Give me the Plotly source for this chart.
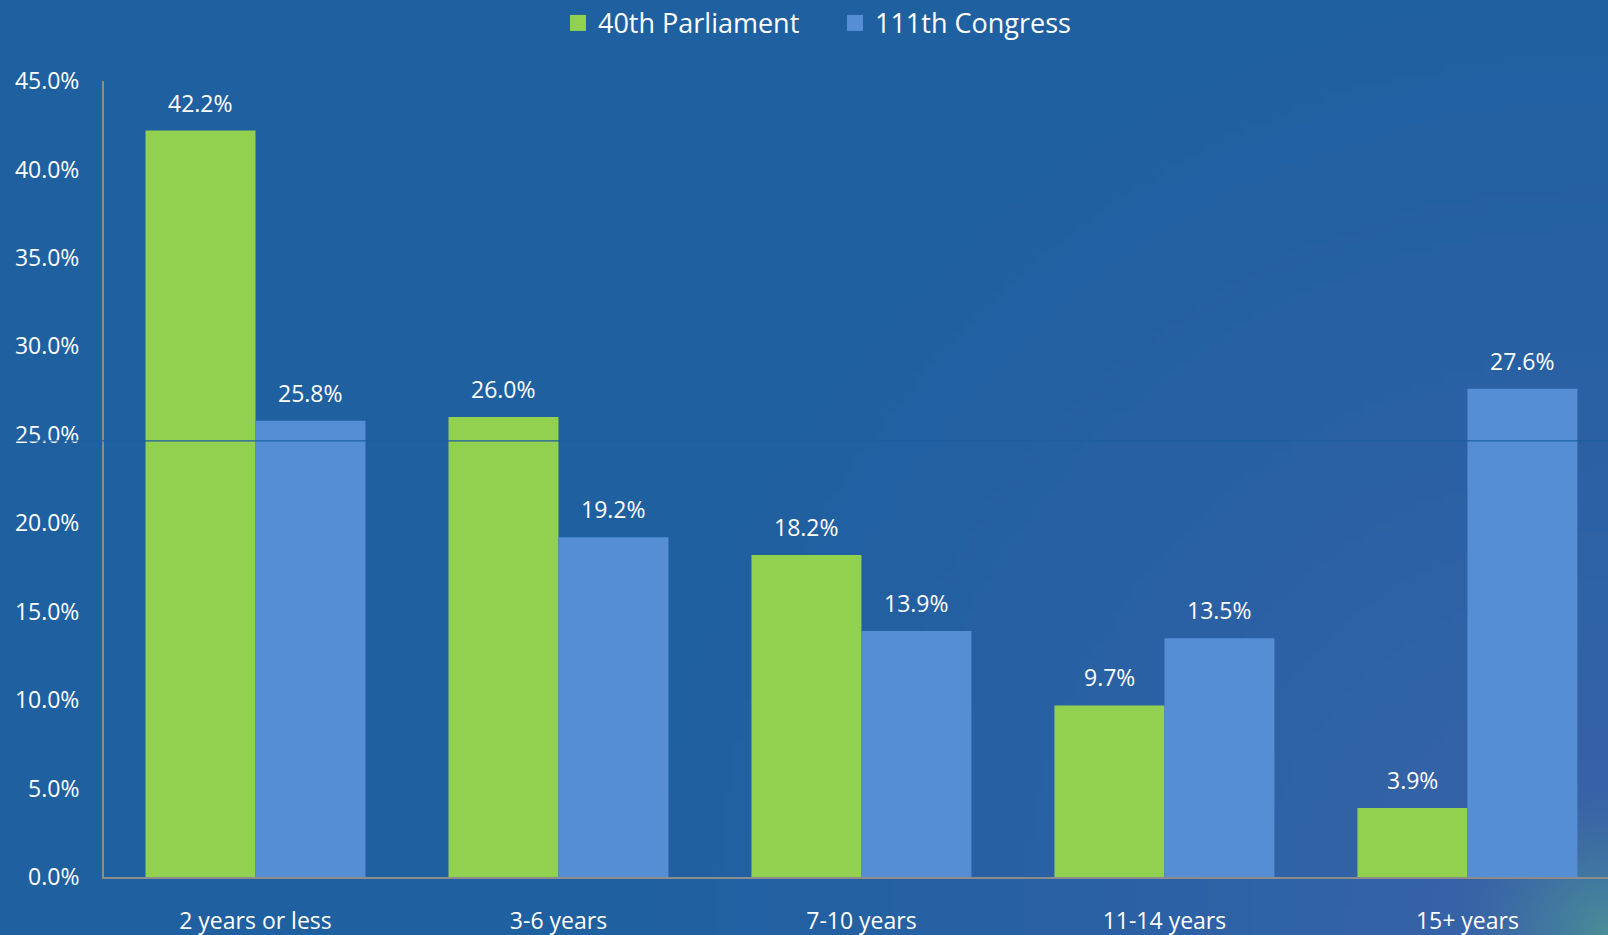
import base64
import struct
import zlib

import plotly.graph_objects as go

categories = ['2 years or less', '3-6 years', '7-10 years', '11-14 years', '15+ years']
parliament = [42.2, 26.0, 18.2, 9.7, 3.9]
congress = [25.8, 19.2, 13.9, 13.5, 27.6]
series_names = ['40th Parliament', '111th Congress']
yticks = [0, 5, 10, 15, 20, 25, 30, 35, 40, 45]

GREEN = '#92D050'
BLUE = '#558ED5'
BG = '#1F60A1'
FONT = 'Open Sans'
W, H = 1608, 935
ML, MR, MT, MB = 104, 0, 81, 58


def background_png(w=161, h=94):
    # slide-style background: blue, lighter towards the bottom right corner
    base = (31, 96, 161)
    light = (60, 99, 169)
    teal = (74, 140, 152)
    rows = b''
    for j in range(h):
        row = bytearray([0])
        for i in range(w):
            dx = (w - 1 - i) / w * 1.7
            dy = (h - 1 - j) / h
            d = (dx * dx + dy * dy) ** 0.5
            s = max(0.0, 1 - d / 1.05) ** 1.3
            c = [base[k] + (light[k] - base[k]) * s for k in range(3)]
            t = max(0.0, 1 - d / 0.16) ** 1.5
            c = [c[k] + (teal[k] - c[k]) * t for k in range(3)]
            row += bytes(int(round(v)) for v in c)
        rows += bytes(row)

    def chunk(tag, data):
        return struct.pack('>I', len(data)) + tag + data + struct.pack('>I', zlib.crc32(tag + data) & 0xffffffff)

    png = b'\x89PNG\r\n\x1a\n'
    png += chunk(b'IHDR', struct.pack('>IIBBBBB', w, h, 8, 2, 0, 0, 0))
    png += chunk(b'IDAT', zlib.compress(rows, 9))
    png += chunk(b'IEND', b'')
    return 'data:image/png;base64,' + base64.b64encode(png).decode()


fig = go.Figure()
fig.add_trace(go.Bar(x=categories, y=parliament, name=series_names[0], marker_color=GREEN,
                     marker_line_width=0, showlegend=False))
fig.add_trace(go.Bar(x=categories, y=congress, name=series_names[1], marker_color=BLUE,
                     marker_line_width=0, showlegend=False))
# legend entries with bigger square swatches
for name, col in zip(series_names, (GREEN, BLUE)):
    fig.add_trace(go.Scatter(x=[None], y=[None], mode='markers', name=name,
                             marker=dict(symbol='square', size=16, color=col)))

# value labels above bars
for i, cat in enumerate(categories):
    for vals, off in ((parliament, -0.182), (congress, 0.182)):
        fig.add_annotation(x=i + off, y=vals[i], text=f'{vals[i]:.1f}%', showarrow=False,
                           yshift=28, font=dict(size=23, color='white', family=FONT))

# thin seam line that crosses the chart near 25%
fig.add_shape(type='line', xref='paper', yref='y', x0=-0.06, x1=1.0, y0=24.65, y1=24.65,
              line=dict(color='#1E5E9F', width=1.2), layer='above')

pw, ph = W - ML - MR, H - MT - MB
fig.add_layout_image(source=background_png(), xref='paper', yref='paper',
                     x=-ML / pw, y=1 + MT / ph, sizex=W / pw, sizey=H / ph,
                     xanchor='left', yanchor='top', sizing='stretch', layer='below')

fig.update_layout(
    width=W, height=H,
    paper_bgcolor=BG, plot_bgcolor='rgba(0,0,0,0)',
    margin=dict(l=ML, r=MR, t=MT, b=MB),
    barmode='group', bargap=0.274, bargroupgap=0,
    font=dict(family=FONT, color='white', size=22),
    showlegend=True,
    legend=dict(orientation='h', xref='container', x=0.347, xanchor='left',
                yref='container', y=0.975, yanchor='middle',
                font=dict(size=27, color='white', family=FONT),
                entrywidth=232, entrywidthmode='pixels',
                bgcolor='rgba(0,0,0,0)', traceorder='normal', itemsizing='trace'),
    xaxis=dict(range=[-0.5, 4.464], showgrid=False, showline=True, linecolor='#8C8C8C',
               linewidth=2, ticks='', tickfont=dict(size=23, color='white'),
               ticklabelstandoff=22, zeroline=False, automargin=False),
    yaxis=dict(range=[0, 45], tickvals=yticks, ticktext=[f'{v:.1f}%' for v in yticks],
               showgrid=False, showline=True, linecolor='#8C8C8C', linewidth=2,
               ticks='', tickfont=dict(size=23, color='white'), ticklabelstandoff=18,
               zeroline=False, automargin=False),
)

fig.write_html('out.html', config={'displayModeBar': False},
               post_script="document.body.style.margin='0';")
